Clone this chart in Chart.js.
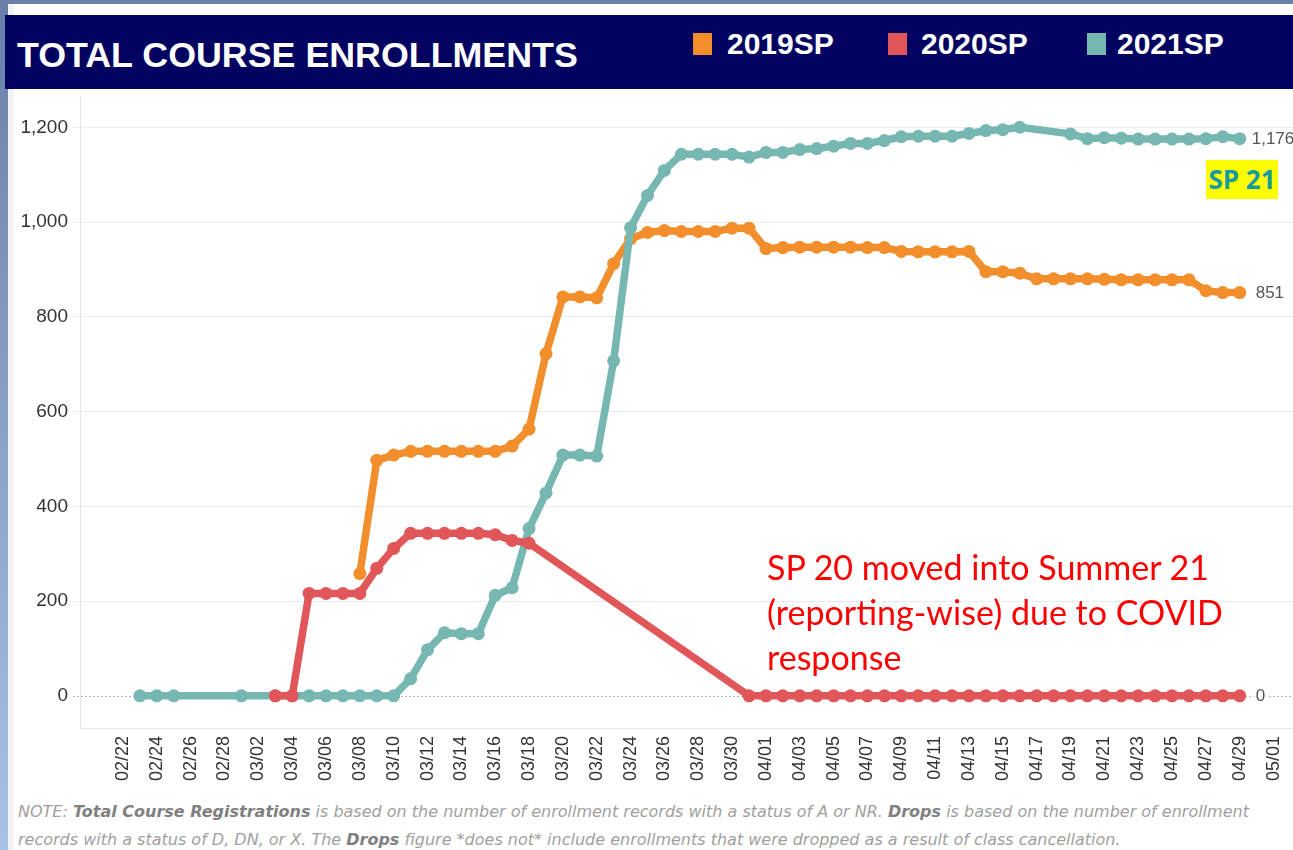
<!DOCTYPE html>
<html>
<head>
<meta charset="utf-8">
<script src="https://cdn.jsdelivr.net/npm/chart.js@4.4.1/dist/chart.umd.min.js"></script>
<style>
  body { margin: 0; width: 1293px; height: 850px; background: #fff; position: relative; overflow: hidden; font-family: "Liberation Sans", Arial, sans-serif; }
  #stripTop { position: absolute; left: 0; top: 0; width: 1293px; height: 4px; background: #6a7fa8; }
  #stripLeft { position: absolute; left: 0; top: 0; width: 8px; height: 850px; background: linear-gradient(#6a7fa8, #a9c1e6); }
  #stripGray { position: absolute; left: 8px; top: 4px; width: 6px; height: 846px; background: #f2f2f2; }
  #header { position: absolute; left: 5px; top: 15px; width: 1288px; height: 74px; background: #020260; }
  #title { position: absolute; left: 12px; top: 20px; color: #fff; font: bold 35.8px "Liberation Sans", Arial, sans-serif; }
  .leg { position: absolute; top: 27px; color: #fff; font: bold 30px "Liberation Sans", Arial, sans-serif; }
  .sw { position: absolute; top: 33px; width: 19px; height: 22px; }
  #wrap { position: absolute; left: 14px; top: 90px; width: 1279px; height: 700px; }
  #sp21 { position: absolute; left: 1206px; top: 160px; width: 72px; height: 39px; background: #ffff00; color: #149aa0; font: bold 26px "Open Sans", sans-serif; line-height: 39px; text-align: center; }
  #sp20 { position: absolute; left: 767px; top: 544px; color: #ff0000; font: 34px Lato, sans-serif; line-height: 45px; }
  #note { position: absolute; left: 18px; top: 798px; width: 1275px; color: #a0a0a0; font: oblique 16px "DejaVu Sans", sans-serif; line-height: 28px; white-space: nowrap; }
  #note b { color: #808080; }
</style>
</head>
<body>
<div id="stripTop"></div>
<div id="stripLeft"></div>
<div id="stripGray"></div>
<div id="header">
  <div id="title">TOTAL COURSE ENROLLMENTS</div>
</div>
<div class="sw" style="left:693px;background:#f28e2b"></div>
<div class="leg" style="left:727px">2019SP</div>
<div class="sw" style="left:888px;background:#e15759"></div>
<div class="leg" style="left:921px">2020SP</div>
<div class="sw" style="left:1087px;background:#76b7b2"></div>
<div class="leg" style="left:1117px">2021SP</div>

<div id="wrap"><canvas id="chart"></canvas></div>

<div id="sp21">SP 21</div>
<div id="sp20">SP 20 moved into Summer 21<br>(reporting-wise) due to COVID<br>response</div>
<div id="note">NOTE: <b>Total Course Registrations</b> is based on the number of enrollment records with a status of A or NR. <b>Drops</b> is based on the number of enrollment<br>records with a status of D, DN, or X. The <b>Drops</b> figure *does not* include enrollments that were dropped as a result of class cancellation.</div>

<script>
// x axis days (tick labels every other day)
const dayLabels = [
  "02/22","02/23","02/24","02/25","02/26","02/27","02/28",
  "03/01","03/02","03/03","03/04","03/05","03/06","03/07","03/08","03/09","03/10",
  "03/11","03/12","03/13","03/14","03/15","03/16","03/17","03/18","03/19","03/20",
  "03/21","03/22","03/23","03/24","03/25","03/26","03/27","03/28","03/29","03/30","03/31",
  "04/01","04/02","04/03","04/04","04/05","04/06","04/07","04/08","04/09","04/10",
  "04/11","04/12","04/13","04/14","04/15","04/16","04/17","04/18","04/19","04/20",
  "04/21","04/22","04/23","04/24","04/25","04/26","04/27","04/28","04/29","04/30",
  "05/01"
];
const yTicks = [0, 200, 400, 600, 800, 1000, 1200];

// 2019SP
const dates2019 = [
  "03/08","03/09","03/10","03/11","03/12","03/13","03/14","03/15","03/16","03/17","03/18",
  "03/19","03/20","03/21","03/22","03/23","03/24","03/25","03/26","03/27","03/28","03/29",
  "03/30","03/31","04/01","04/02","04/03","04/04","04/05","04/06","04/07","04/08","04/09",
  "04/10","04/11","04/12","04/13","04/14","04/15","04/16","04/17","04/18","04/19","04/20",
  "04/21","04/22","04/23","04/24","04/25","04/26","04/27","04/28","04/29"
];
const values2019 = [
  258, 497, 508, 516, 516, 516, 516, 516, 516, 527, 563,
  722, 842, 842, 840, 912, 965, 978, 982, 980, 980, 980,
  987, 987, 944, 946, 947, 947, 947, 947, 946, 946, 938,
  937, 937, 937, 938, 895, 895, 892, 880, 880, 880, 880,
  879, 878, 878, 878, 878, 878, 855, 851, 851
];

// 2020SP
const dates2020 = [
  "03/03","03/04","03/05","03/06","03/07","03/08","03/09","03/10","03/11","03/12","03/13",
  "03/14","03/15","03/16","03/17","03/18","03/31","04/01","04/02","04/03","04/04","04/05",
  "04/06","04/07","04/08","04/09","04/10","04/11","04/12","04/13","04/14","04/15","04/16",
  "04/17","04/18","04/19","04/20","04/21","04/22","04/23","04/24","04/25","04/26","04/27",
  "04/28","04/29"
];
const values2020 = [
  0, 0, 216, 216, 216, 216, 269, 311, 343, 343, 343,
  343, 343, 340, 328, 322, 0, 0, 0, 0, 0, 0,
  0, 0, 0, 0, 0, 0, 0, 0, 0, 0, 0,
  0, 0, 0, 0, 0, 0, 0, 0, 0, 0, 0,
  0, 0
];

// 2021SP
const dates2021 = [
  "02/23","02/24","02/25","03/01","03/03","03/04","03/05","03/06","03/07","03/08","03/09",
  "03/10","03/11","03/12","03/13","03/14","03/15","03/16","03/17","03/18","03/19","03/20",
  "03/21","03/22","03/23","03/24","03/25","03/26","03/27","03/28","03/29","03/30","03/31",
  "04/01","04/02","04/03","04/04","04/05","04/06","04/07","04/08","04/09","04/10","04/11",
  "04/12","04/13","04/14","04/15","04/16","04/19","04/20","04/21","04/22","04/23","04/24",
  "04/25","04/26","04/27","04/28","04/29"
];
const values2021 = [
  0, 0, 0, 0, 0, 0, 0, 0, 0, 0, 0,
  0, 36, 97, 133, 131, 131, 212, 228, 353, 428, 508,
  508, 506, 707, 988, 1056, 1109, 1143, 1143, 1143, 1143, 1137,
  1147, 1147, 1153, 1155, 1160, 1166, 1166, 1172, 1180, 1181, 1181,
  1181, 1187, 1193, 1195, 1200, 1186, 1176, 1178, 1177, 1175, 1175,
  1175, 1175, 1176, 1180, 1176
];

function toPoints(dates, values) {
  return dates.map((d, i) => ({ x: dayLabels.indexOf(d), y: values[i] }));
}

// dotted zero line + value at end of each line
const extras = {
  id: "extras",
  beforeDatasetsDraw(chart) {
    const { ctx, scales } = chart;
    const y0 = Math.round(scales.y.getPixelForValue(0)) + 0.5;
    ctx.save();
    ctx.strokeStyle = "#b5b5b5";
    ctx.lineWidth = 1;
    ctx.setLineDash([2, 2]);
    ctx.beginPath();
    ctx.moveTo(chart.chartArea.left - 7, y0);
    ctx.lineTo(chart.width, y0);
    ctx.stroke();
    ctx.restore();
  },
  afterDatasetsDraw(chart) {
    const { ctx } = chart;
    ctx.save();
    ctx.font = "17px 'Liberation Sans', Arial, sans-serif";
    ctx.textBaseline = "middle";
    chart.data.datasets.forEach((ds, i) => {
      const pts = chart.getDatasetMeta(i).data;
      const last = pts[pts.length - 1];
      const v = ds.data[ds.data.length - 1].y;
      const txt = v.toLocaleString("en-US");
      const w = ctx.measureText(txt).width;
      const dx = v >= 1000 ? 12 : 16;
      ctx.fillStyle = "#fff";
      ctx.fillRect(last.x + dx - 2, last.y - 8, w + 4, 16);
      ctx.fillStyle = "#555";
      ctx.fillText(txt, last.x + dx, last.y + 1);
    });
    ctx.restore();
  }
};

const commonLine = {
  borderWidth: 7.5,
  pointRadius: 6.5,
  pointHoverRadius: 6.5,
  pointBorderWidth: 0,
  borderJoinStyle: "round",
  borderCapStyle: "round",
  tension: 0
};

new Chart(document.getElementById("chart"), {
  type: "line",
  data: {
    datasets: [
      {
        ...commonLine,
        label: "2020SP",
        data: toPoints(dates2020, values2020),
        borderColor: "#e15759",
        backgroundColor: "#e15759",
        order: 0
      },
      {
        ...commonLine,
        label: "2021SP",
        data: toPoints(dates2021, values2021),
        borderColor: "#76b7b2",
        backgroundColor: "#76b7b2",
        order: 1
      },
      {
        ...commonLine,
        label: "2019SP",
        data: toPoints(dates2019, values2019),
        borderColor: "#f28e2b",
        backgroundColor: "#f28e2b",
        order: 2
      }
    ]
  },
  options: {
    responsive: true,
    maintainAspectRatio: false,
    animation: false,
    layout: { autoPadding: false, padding: { top: 6, right: 0, bottom: 0, left: 0 } },
    plugins: {
      legend: { display: false },
      tooltip: { enabled: false }
    },
    scales: {
      x: {
        type: "linear",
        min: -2.54,
        max: 69.15,
        afterBuildTicks(scale) {
          const t = [];
          for (let i = 0; i < dayLabels.length; i += 2) t.push({ value: i });
          scale.ticks = t;
        },
        afterFit(scale) {
          scale.height = 62;
          scale.paddingLeft = 0;
          scale.paddingRight = 0;
        },
        grid: { display: false, drawTicks: false },
        border: { display: true, color: "#e6e6e6", width: 1 },
        ticks: {
          autoSkip: false,
          minRotation: 90,
          maxRotation: 90,
          padding: 8,
          color: "#333",
          font: { size: 18, family: "'Liberation Sans', Arial, sans-serif" },
          callback: v => dayLabels[v] || ""
        }
      },
      y: {
        min: -68,
        max: 1266,
        afterBuildTicks(scale) {
          scale.ticks = yTicks.map(v => ({ value: v }));
        },
        afterFit(scale) {
          scale.width = 66;
          scale.paddingTop = 0;
          scale.paddingBottom = 0;
        },
        grid: {
          color: ctx => (ctx.tick && ctx.tick.value === 0 ? "rgba(0,0,0,0)" : "#ececec"),
          tickColor: ctx => (ctx.tick && ctx.tick.value === 0 ? "rgba(0,0,0,0)" : "#ececec"),
          tickLength: 7
        },
        border: { display: true, color: "#e6e6e6", width: 1 },
        ticks: {
          padding: 5,
          color: "#333",
          font: { size: 19, family: "'Liberation Sans', Arial, sans-serif" },
          callback: v => v.toLocaleString("en-US")
        }
      }
    }
  },
  plugins: [extras]
});
</script>
</body>
</html>
